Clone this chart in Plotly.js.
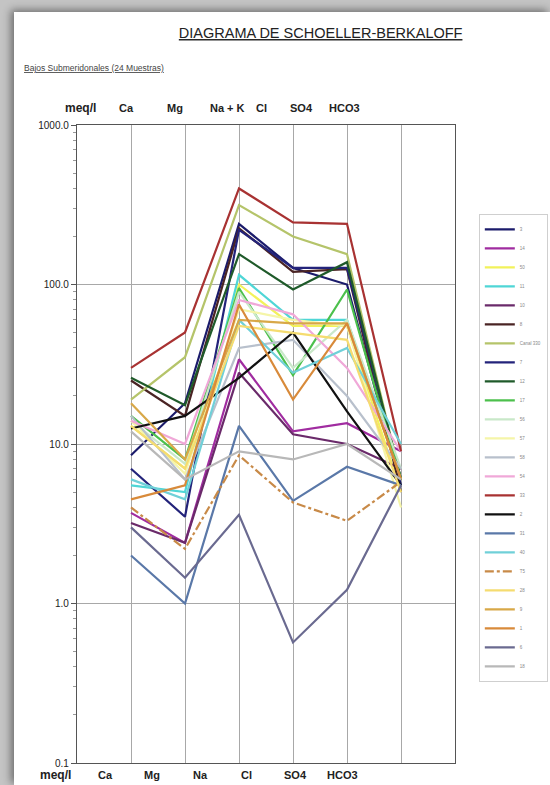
<!DOCTYPE html>
<html>
<head>
<meta charset="utf-8">
<script src="https://cdn.plot.ly/plotly-3.0.1.min.js"></script>
<style>
  html, body { margin: 0; padding: 0; width: 550px; height: 785px; overflow: hidden; background: #c4c4c4; }
  #sheet { position: absolute; left: 14px; top: 12px; width: 536px; height: 773px; background: #ffffff;
           box-shadow: -3px -2px 8px rgba(0,0,0,0.45); }
  #chart { position: absolute; left: 0; top: 0; width: 550px; height: 785px; }
</style>
</head>
<body>
<div id="sheet"></div>
<div id="chart"></div>
<script>
// Ion positions along the x axis (Ca, Mg, Na+K, Cl, SO4, HCO3)
const ionPositions = [1, 2, 3, 4, 5, 6];
const ionsTop = ["Ca", "Mg", "Na + K", "Cl", "SO4", "HCO3"];
const ionsBottom = ["Ca", "Mg", "Na", "Cl", "SO4", "HCO3"];

const yTickVals = [0.1, 1, 10, 100, 1000];
const yTickText = ["0.1", "1.0", "10.0", "100.0", "1000.0"];
const yMinorVals = [0.2, 0.3, 0.4, 0.5, 0.6, 0.7, 0.8, 0.9,
                    2, 3, 4, 5, 6, 7, 8, 9,
                    20, 30, 40, 50, 60, 70, 80, 90,
                    200, 300, 400, 500, 600, 700, 800, 900];

// Sample names (legend order)
const samples = ["3", "14", "50", "11", "10", "8", "Canal 330", "7", "12", "17", "56", "57",
                 "58", "54", "33", "2", "31", "40", "T5", "28", "9", "1", "6", "18"];

// meq/l values: Ca, Mg, Na+K, Cl, SO4, HCO3
const s3        = [8.5, 18, 240, 127, 100, 5.5];
const s14       = [3.7, 2.4, 34, 12, 13.5, 9];
const s50       = [13, 7, 100, 55, 55, 5];
const s11       = [5.5, 5, 115, 60, 60, 6];
const s10       = [3.2, 2.4, 28, 11.5, 10, 7];
const s8        = [25, 15, 225, 120, 125, 5];
const sCanal330 = [19, 35, 315, 200, 155, 6];
const s7        = [7, 3.5, 220, 127, 127, 6];
const s12       = [26, 17.5, 155, 93, 138, 6];
const s17       = [15, 8, 95, 27, 93, 6];
const s56       = [14, 7.5, 90, 30, 60, 7];
const s57       = [14, 6.5, 70, 60, 55, 4];
const s58       = [15, 6, 40, 45, 20, 7];
const s54       = [14, 10, 80, 65, 30, 9];
const s33       = [30, 50, 400, 245, 240, 9];
const s2        = [12.5, 15, 26, 50, 16, 5.5];
const s31       = [2.0, 1.0, 13, 4.4, 7.2, 5.5];
const s40       = [6, 4.5, 60, 28, 40, 10];
const sT5       = [4.0, 2.2, 8.5, 4.3, 3.3, 5.8];
const s28       = [13, 7, 55, 50, 45, 5];
const s9        = [18, 8, 60, 57, 57, 6];
const s1        = [4.5, 5.5, 75, 19, 57, 6];
const s6        = [3.0, 1.45, 3.6, 0.57, 1.22, 5.5];
const s18       = [12, 6, 9, 8, 10, 6];

const seriesValues = [s3, s14, s50, s11, s10, s8, sCanal330, s7, s12, s17, s56, s57,
                      s58, s54, s33, s2, s31, s40, sT5, s28, s9, s1, s6, s18];

const seriesColors = ["#1b1b6b", "#a02ca0", "#f2f25a", "#4fd6d6", "#6a2a6a", "#4a2424",
                      "#b5c46a", "#23237a", "#1f5a2a", "#4cc04c", "#c9e8c9", "#f5f5a8",
                      "#b8c0cc", "#f0a8d8", "#a83232", "#111111", "#5a78a8", "#70d0d8",
                      "#c88a48", "#f5dc70", "#d8a848", "#d88a3a", "#6a6a90", "#b8b8b8"];
const seriesDash = ["solid","solid","solid","solid","solid","solid","solid","solid","solid","solid","solid","solid",
                    "solid","solid","solid","solid","solid","solid","dashdot","solid","solid","solid","solid","solid"];

const traces = samples.map((name, i) => ({
  type: "scatter",
  mode: "lines",
  name: name,
  x: ionPositions,
  y: seriesValues[i],
  line: { color: seriesColors[i], width: 2.2, dash: seriesDash[i] },
  hoverinfo: "name+y"
}));

const labelFont = { family: "Liberation Sans, Arial, sans-serif", size: 11, color: "#222" };
const annotations = [];
const topX = [0.91, 1.82, 2.78, 3.41, 4.15, 4.96];
ionsTop.forEach((t, i) => annotations.push({
  xref: "x", yref: "paper", x: topX[i], y: 1.027, text: "<b>" + t + "</b>",
  showarrow: false, font: labelFont, xanchor: "center", yanchor: "middle"
}));
const botX = [0.52, 1.39, 2.28, 3.13, 4.04, 4.92];
ionsBottom.forEach((t, i) => annotations.push({
  xref: "x", yref: "paper", x: botX[i], y: -0.019, text: "<b>" + t + "</b>",
  showarrow: false, font: labelFont, xanchor: "center", yanchor: "middle"
}));
annotations.push({ xref: "paper", yref: "paper", x: 0.01, y: 1.027, xanchor: "center", yanchor: "middle",
  text: "<b>meq/l</b>", showarrow: false, font: { family: labelFont.family, size: 12, color: "#222" } });
annotations.push({ xref: "paper", yref: "paper", x: -0.058, y: -0.019, xanchor: "center", yanchor: "middle",
  text: "<b>meq/l</b>", showarrow: false, font: { family: labelFont.family, size: 12, color: "#222" } });
annotations.push({ xref: "paper", yref: "paper", x: -0.145, y: 1.09, xanchor: "left", yanchor: "middle",
  text: "<u>Bajos Submeridonales (24 Muestras)</u>", showarrow: false,
  font: { family: "Liberation Sans, Arial, sans-serif", size: 8.5, color: "#444" } });

const layout = {
  width: 550, height: 785,
  paper_bgcolor: "rgba(0,0,0,0)",
  plot_bgcolor: "#ffffff",
  margin: { l: 77, r: 95, t: 125, b: 22, autoexpand: false },
  title: {
    text: "<u>DIAGRAMA DE SCHOELLER-BERKALOFF</u>",
    x: 0.583, xanchor: "center", y: 0.958, yanchor: "middle",
    font: { family: "Liberation Sans, Arial, sans-serif", size: 14.5, color: "#222" }
  },
  showlegend: true,
  legend: {
    x: 1.063, xanchor: "left", y: 0.494, yanchor: "middle",
    bgcolor: "#ffffff", bordercolor: "#cfcfcf", borderwidth: 1,
    font: { family: "Liberation Sans, Arial, sans-serif", size: 4.5, color: "#888" },
    itemwidth: 30, tracegroupgap: 0
  },
  xaxis: {
    range: [0, 7], tickvals: ionPositions, showticklabels: false, ticks: "",
    showgrid: true, gridcolor: "#a8a8a8", gridwidth: 1, zeroline: false,
    showline: true, linecolor: "#555", linewidth: 1, mirror: true, fixedrange: true
  },
  yaxis: {
    type: "log", range: [-1, 3], tickvals: yTickVals, ticktext: yTickText,
    ticks: "outside", ticklen: 5, tickcolor: "#555",
    minor: { tickmode: "array", tickvals: yMinorVals, ticks: "outside", ticklen: 3, tickcolor: "#999", showgrid: false },
    showgrid: true, gridcolor: "#a8a8a8", gridwidth: 1, zeroline: false,
    showline: true, linecolor: "#555", linewidth: 1.2, mirror: true,
    tickfont: { family: "Liberation Sans, Arial, sans-serif", size: 10, color: "#222" },
    fixedrange: true
  },
  annotations: annotations
};

Plotly.newPlot("chart", traces, layout, { displayModeBar: false, staticPlot: true });
</script>
</body>
</html>
